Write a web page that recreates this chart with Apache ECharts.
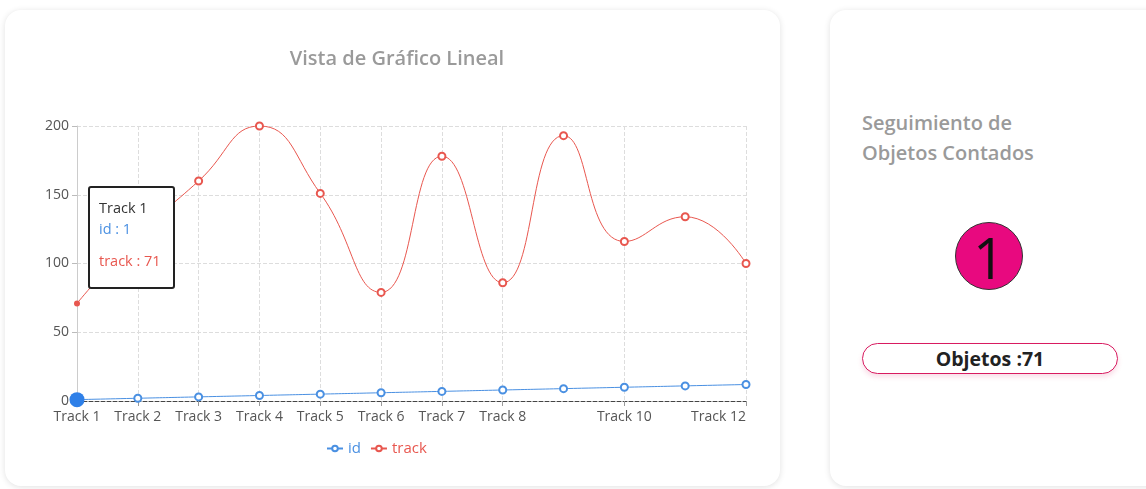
<!DOCTYPE html>
<html>
<head>
<meta charset="utf-8">
<script src="https://cdn.jsdelivr.net/npm/echarts@6/dist/echarts.min.js"></script>
<style>
  html, body { margin: 0; padding: 0; background: #fff; font-family: "Open Sans", sans-serif; }
  body { width: 1146px; height: 489px; position: relative; overflow: hidden; }
  .card {
    position: absolute;
    background: #fff;
    border-radius: 16px;
    box-shadow: 0 1px 6px rgba(0, 0, 0, 0.12);
  }
  .card-chart { left: 5px; top: 10px; width: 775px; height: 476px; }
  .card-count { left: 830px; top: 10px; width: 340px; height: 476px; }
  .count-title {
    position: absolute; left: 32px; top: 98px;
    font-size: 20px; font-weight: 600; color: #9a9a9a; line-height: 30px;
  }
  .count-circle {
    position: absolute; left: 125px; top: 212px; width: 66px; height: 66px;
    border-radius: 50%; background: #e8097f; border: 1px solid #333;
    font-size: 56px; font-weight: 500; line-height: 68px; text-align: center; color: #111;
  }
  .count-pill {
    position: absolute; left: 32px; top: 333px; width: 254px; height: 29px;
    border: 1.5px solid #d81b60; border-radius: 16px; background: #fff;
    box-shadow: 0 3px 5px rgba(216, 27, 96, 0.15);
    font-size: 19.5px; font-weight: 700; color: #222; text-align: center; line-height: 29px;
  }
  #chart { position: absolute; left: 0; top: 0; width: 1146px; height: 489px; }
</style>
</head>
<body>
  <div class="card card-chart"></div>
  <div class="card card-count">
    <div class="count-title">Seguimiento de<br>Objetos Contados</div>
    <div class="count-circle">1</div>
    <div class="count-pill">Objetos :71</div>
  </div>
  <div id="chart"></div>

<script>
// 数据
const categories = ['Track 1', 'Track 2', 'Track 3', 'Track 4', 'Track 5', 'Track 6',
  'Track 7', 'Track 8', 'Track 9', 'Track 10', 'Track 11', 'Track 12']
const idValues = [1, 2, 3, 4, 5, 6, 7, 8, 9, 10, 11, 12]
const trackValues = [71, 120, 160, 200, 151, 79, 178, 86, 193, 116, 134, 100]
const hiddenLabels = [8, 10] // Track 9 / Track 11 的标签被隐藏
const yTicks = { min: 0, max: 200, interval: 50 }

const blue = '#4a90e2'
const red = '#e8574f'

const chart = echarts.init(document.getElementById('chart'))

chart.setOption({
  textStyle: { fontFamily: '"Open Sans", sans-serif' },
  title: {
    text: 'Vista de Gráfico Lineal',
    left: 392,
    top: 44,
    textAlign: 'center',
    textStyle: { color: '#9a9a9a', fontSize: 20, fontWeight: 600 },
  },
  legend: {
    data: [
      { name: 'id', textStyle: { color: blue } },
      { name: 'track', textStyle: { color: red } },
    ],
    left: 321,
    top: 436,
    itemWidth: 16,
    itemHeight: 7,
    itemGap: 9,
    textStyle: { fontSize: 15 },
  },
  tooltip: {
    trigger: 'item',
    triggerOn: 'none',
    alwaysShowContent: true,
    position: [88, 186],
    backgroundColor: '#fff',
    borderColor: '#222',
    borderWidth: 2,
    padding: [9, 9],
    extraCssText: 'border-radius:3px;box-shadow:none;width:65px;height:81px;',
    formatter: (p) => {
      const i = p.dataIndex
      const st = 'font-size:14.5px;line-height:21px;white-space:nowrap;'
      return '<div style="' + st + 'color:#333">' + categories[i] + '</div>' +
        '<div style="' + st + 'color:' + blue + '">id : ' + idValues[i] + '</div>' +
        '<div style="' + st + 'color:' + red + ';margin-top:11px">track : ' + trackValues[i] + '</div>'
    },
  },
  grid: { left: 77, top: 126, width: 669, height: 275 },
  xAxis: {
    type: 'category',
    boundaryGap: false,
    data: categories,
    axisLine: { lineStyle: { color: '#444', type: 'dashed' } },
    axisTick: { show: true, lineStyle: { color: '#999' } },
    axisLabel: {
      color: '#555',
      fontSize: 14,
      margin: 9,
      alignMaxLabel: 'right',
      interval: (idx) => !hiddenLabels.includes(idx),
    },
    splitLine: { show: true, lineStyle: { color: '#ddd', type: 'dashed' } },
  },
  yAxis: {
    type: 'value',
    min: yTicks.min,
    max: yTicks.max,
    interval: yTicks.interval,
    axisLine: { show: true, lineStyle: { color: '#ccc' } },
    axisTick: { show: true, lineStyle: { color: '#bbb' } },
    axisLabel: { color: '#555', fontSize: 14, margin: 8 },
    splitLine: { show: true, lineStyle: { color: '#ddd', type: 'dashed' } },
  },
  series: [
    {
      name: 'id',
      type: 'line',
      smooth: true,
      symbol: 'emptyCircle',
      symbolSize: 7,
      color: blue,
      itemStyle: { borderWidth: 1 },
      lineStyle: { width: 1 },
      data: idValues.map((v, i) => i === 0
        ? { value: v, symbol: 'circle', symbolSize: 15, itemStyle: { color: '#2f80e8' } }
        : v),
    },
    {
      name: 'track',
      type: 'line',
      smooth: true,
      symbol: 'emptyCircle',
      symbolSize: 7,
      color: red,
      itemStyle: { borderWidth: 1 },
      lineStyle: { width: 1 },
      data: trackValues.map((v, i) => i === 0
        ? { value: v, symbol: 'circle', symbolSize: 6 }
        : v),
    },
  ],
})

chart.dispatchAction({ type: 'showTip', seriesIndex: 1, dataIndex: 0 })
</script>
</body>
</html>
